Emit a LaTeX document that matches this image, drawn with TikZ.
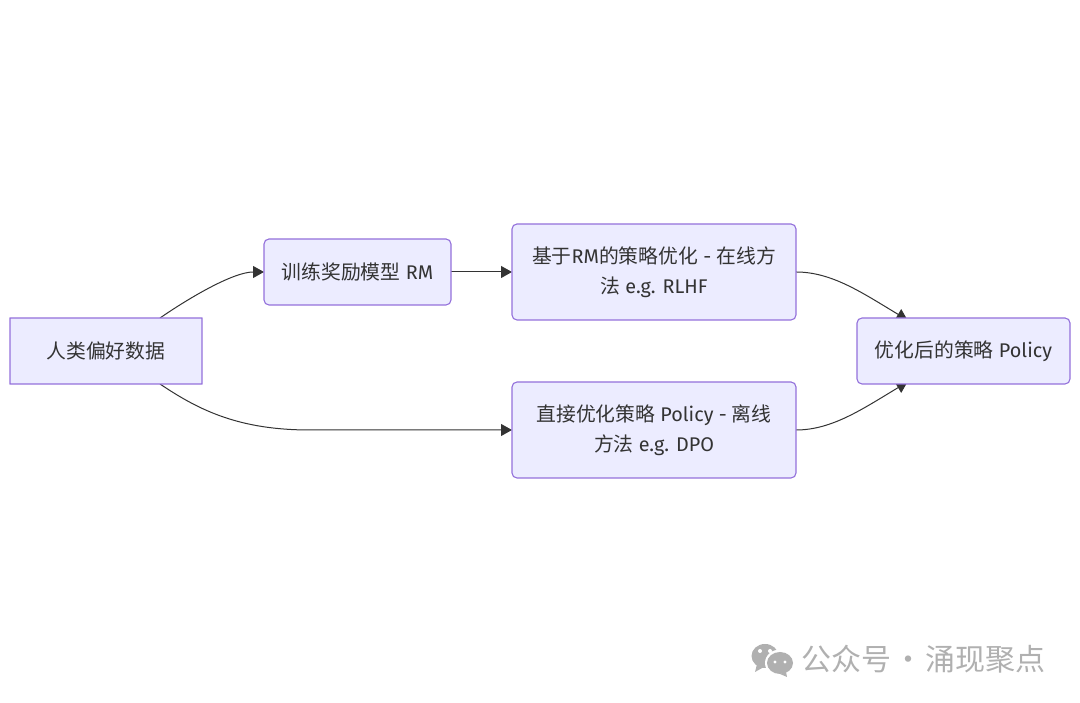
\documentclass[tikz,border=0pt]{standalone}
\usepackage{fontspec}
\setmainfont{Fira Sans}
\newfontfamily\zh{Noto Sans CJK SC}
\usepackage{xcolor}
\usetikzlibrary{arrows.meta,positioning,calc,backgrounds}
\definecolor{nodefill}{HTML}{ECECFF}
\definecolor{nodeline}{HTML}{9370DB}
\definecolor{edgeline}{HTML}{333333}
\definecolor{markgray}{HTML}{B0B0B0}

\begin{document}
\begin{tikzpicture}[
    x=1pt, y=1pt,
    node distance=62pt,
    box/.style={rectangle, draw=nodeline, fill=nodefill, line width=1.1pt, rounded corners=5pt, outer sep=0pt, align=center, text=edgeline, font=\fontsize{19.8}{29.5}\selectfont, inner sep=0pt, minimum height=66pt},
    arrow/.style={-{Triangle[length=11pt,width=12pt]}, line width=1pt, draw=edgeline}
]
\useasboundingbox (0,0) rectangle (1080,703);
\node[box, rounded corners=0.1pt, line width=1.3pt, minimum width=192pt] (human) at (106,352) {\zh 人类偏好数据};
\node[box, minimum width=187pt, right=62pt of human, yshift=79pt] (rm) {{\zh 训练奖励模型} RM};
\node[box, minimum width=284pt, minimum height=96pt, right=61pt of rm] (rlhf) {{\zh 基于}RM{\zh 的策略优化} - {\zh 在线方}\\{\zh 法} e.g. RLHF};
\node[box, minimum width=284pt, minimum height=96pt, below=62pt of rlhf] (dpo) {{\zh 直接优化策略} Policy - {\zh 离线}\\{\zh 方法} e.g. DPO};
\node[box, minimum width=213pt, right=61pt of rlhf, yshift=-79pt] (policy) {{\zh 优化后的策略} Policy};

\node[font=\zh\fontsize{30}{30}\selectfont, text=markgray, inner sep=0pt, anchor=west] (mark) at (801,44) {公众号\hspace{2pt}·\hspace{2pt}涌现聚点};

\begin{scope}[on background layer]
\draw[arrow] ($(human.north)+(54,0)$) .. controls +(32,22) and +(-30,0) .. (rm.west);
\draw[arrow] (rm) -- (rlhf);
\draw[arrow] ($(human.south)+(54,0)$) .. controls +(40,-27) and +(-70,0) .. ($(human.south)+(204,-46)$) -- (dpo.west);
\draw[arrow] (rlhf.east) .. controls +(36,0) and +(-45,27) .. ($(policy.north)+(-56,-2)$);
\draw[arrow] (dpo.east) .. controls +(36,0) and +(-45,-27) .. ($(policy.south)+(-56,2)$);
\end{scope}

\fill[markgray] (765,47) ellipse (13.5pt and 12pt);
\fill[markgray] (757,39) -- (755,31) -- (764,36) -- cycle;
\fill[white] (780,40) ellipse (15pt and 13.5pt);
\fill[markgray] (780,40) ellipse (13pt and 11pt);
\fill[markgray] (786,31) -- (787,26) -- (780,29) -- cycle;
\fill[white] (760,52) circle (2pt) (770,52) circle (2pt) (775,41) circle (1.7pt) (785,41) circle (1.7pt);
\end{tikzpicture}
\end{document}
